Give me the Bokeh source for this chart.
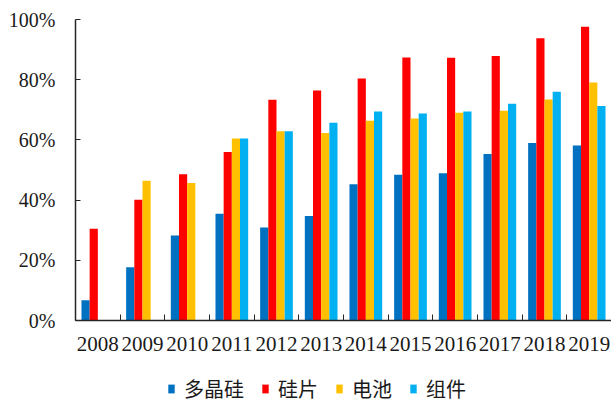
from bokeh.plotting import figure
from bokeh.layouts import column
from bokeh.models import FixedTicker, Range1d, Legend, LegendItem, ColumnDataSource, PrintfTickFormatter
from bokeh.embed import file_html
from bokeh.resources import INLINE

nan = float("nan")
years = ["2008", "2009", "2010", "2011", "2012", "2013", "2014", "2015", "2016", "2017", "2018", "2019"]
series_names = ["多晶硅", "硅片", "电池", "组件"]
polysilicon = [6.7, 17.7, 28.2, 35.5, 30.9, 34.7, 45.3, 48.4, 48.9, 55.3, 59.0, 58.1]
wafer = [30.5, 40.1, 48.6, 56.0, 73.3, 76.4, 80.4, 87.4, 87.3, 87.9, 93.8, 97.6]
cell = [nan, 46.4, 45.7, 60.5, 62.9, 62.3, 66.4, 67.1, 69.0, 69.7, 73.4, 79.1]
module = [nan, nan, nan, 60.5, 62.9, 65.7, 69.4, 68.8, 69.4, 72.0, 76.0, 71.3]
y_ticks = [0, 20, 40, 60, 80, 100]
colors = ["#0070C0", "#FF0000", "#FFC000", "#00B0F0"]

series = [polysilicon, wafer, cell, module]
bar_w = 0.183

p = figure(width=611, height=370, x_range=Range1d(0, len(years)), y_range=Range1d(0, 100),
           output_backend="svg", toolbar_location=None,
           min_border_left=75, min_border_right=0, min_border_top=19, min_border_bottom=50)
p.outline_line_color = None
p.xgrid.visible = False
p.ygrid.visible = False

# legend strip (same data, drawn outside its visible range so only the legend shows)
lg = figure(width=611, height=33, x_range=Range1d(0, 1), y_range=Range1d(1000, 1001),
            output_backend="svg", toolbar_location=None,
            min_border_left=0, min_border_right=0, min_border_top=0, min_border_bottom=0)
lg.outline_line_color = None
lg.axis.visible = False
lg.grid.visible = False

items = []
for k, (vals, name, col) in enumerate(zip(series, series_names, colors)):
    xs = [i + 0.5 + (k - 1.5) * bar_w for i in range(len(years))]
    src = ColumnDataSource(dict(x=xs, top=vals))
    p.vbar(x="x", top="top", bottom=0, width=bar_w, source=src, fill_color=col, line_color=None)
    r = lg.vbar(x="x", top="top", bottom=0, width=bar_w, source=src, fill_color=col, line_color=None)
    items.append(LegendItem(label=name, renderers=[r]))

# x axis
centers = [i + 0.5 for i in range(len(years))]
p.xaxis.ticker = FixedTicker(ticks=centers, minor_ticks=list(range(len(years) + 1)))
p.xaxis.major_label_overrides = {c: y for c, y in zip(centers, years)}
p.xaxis.major_tick_in = 0
p.xaxis.major_tick_out = 0
p.xaxis.minor_tick_in = 6
p.xaxis.minor_tick_out = 0
p.xaxis.minor_tick_line_color = "#262626"
p.xaxis.axis_line_color = "#262626"
p.xaxis.axis_line_width = 1.5
p.xaxis.major_label_text_font = "Liberation Serif"
p.xaxis.major_label_text_font_size = "21px"
p.xaxis.major_label_text_color = "#1a1a1a"
p.xaxis.major_label_standoff = 16

# y axis
p.yaxis.ticker = FixedTicker(ticks=y_ticks, minor_ticks=[])
p.yaxis.formatter = PrintfTickFormatter(format="%d%%")
p.yaxis.major_tick_in = 5
p.yaxis.major_tick_out = 0
p.yaxis.major_tick_line_color = "#262626"
p.yaxis.minor_tick_line_color = None
p.yaxis.axis_line_color = "#262626"
p.yaxis.axis_line_width = 1.5
p.yaxis.major_label_text_font = "Liberation Serif"
p.yaxis.major_label_text_font_size = "20px"
p.yaxis.major_label_text_color = "#1a1a1a"
p.yaxis.major_label_standoff = 20

legend = Legend(items=items, orientation="horizontal", location=(92, 0))
legend.label_text_font = "Noto Sans CJK SC"
legend.label_text_font_size = "20px"
legend.label_text_color = "#1a1a1a"
legend.glyph_width = 8
legend.glyph_height = 11
legend.label_standoff = 9
legend.spacing = 17
legend.padding = 0
legend.margin = 0
legend.border_line_color = None
legend.background_fill_alpha = 0
lg.add_layout(legend)

layout = column(p, lg, spacing=0)
open("out.html", "w").write(file_html(layout, INLINE))
